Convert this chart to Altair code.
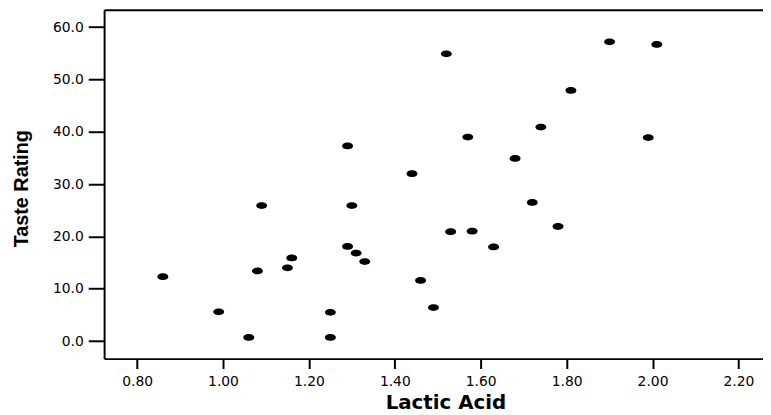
import altair as alt
import pandas as pd

lactic = [0.86, 1.53, 1.57, 1.81, 0.99, 1.09, 1.29, 1.78, 1.29, 1.58,
          1.68, 1.90, 1.06, 1.30, 1.52, 1.74, 1.16, 1.49, 1.63, 1.99,
          1.15, 1.33, 1.44, 2.01, 1.31, 1.46, 1.72, 1.25, 1.08, 1.25]
taste = [12.3, 20.9, 39.0, 47.9, 5.6, 25.9, 37.3, 21.9, 18.1, 21.0,
         34.9, 57.2, 0.7, 25.9, 54.9, 40.9, 15.9, 6.4, 18.0, 38.9,
         14.0, 15.2, 32.0, 56.7, 16.8, 11.6, 26.5, 0.7, 13.4, 5.5]
x_ticks = [0.8, 1.0, 1.2, 1.4, 1.6, 1.8, 2.0, 2.2]
y_ticks = [0, 10, 20, 30, 40, 50, 60]

df = pd.DataFrame({"Lactic Acid": lactic, "Taste Rating": taste})

x_scale = alt.Scale(domain=[0.7232, 2.2572], nice=False, zero=False)
y_scale = alt.Scale(domain=[-3.35, 63.3], nice=False, zero=False)

ellipse = "M-1,0A1,0.62 0 1,0 1,0A1,0.62 0 1,0 -1,0Z"

points = alt.Chart(df).mark_point(
    shape=ellipse, filled=True, color="black", opacity=1, size=121
).encode(
    x=alt.X("Lactic Acid:Q", scale=x_scale,
            axis=alt.Axis(values=x_ticks, format=".2f", grid=False,
                          tickSize=10, tickWidth=2, domainWidth=2,
                          domainColor="black", tickColor="black",
                          labelFont="DejaVu Sans", labelFontSize=14,
                          labelColor="black", labelPadding=6,
                          labelFlush=False,
                          title="Lactic Acid", titleFont="DejaVu Sans",
                          titleFontSize=20, titleFontWeight="bold",
                          titleColor="black", titleBaseline="alphabetic",
                          titleAlign="center", titleX=344.5, titleY=50)),
    y=alt.Y("Taste Rating:Q", scale=y_scale,
            axis=alt.Axis(values=y_ticks, format=".1f", grid=False,
                          tickSize=16, tickWidth=2, domainWidth=2,
                          domainColor="black", tickColor="black",
                          labelFont="DejaVu Sans", labelFontSize=14,
                          labelColor="black", labelPadding=5,
                          labelFlush=False,
                          title="Taste Rating", titleFont="Liberation Sans",
                          titleFontSize=20, titleFontWeight="bold",
                          titleColor="black", titleBaseline="alphabetic",
                          titleAlign="center", titleAngle=270,
                          titleX=-77, titleY=180)),
)

top_line = alt.Chart(df).mark_point(opacity=0).encode(
    x=alt.X("Lactic Acid:Q", scale=x_scale,
            axis=alt.Axis(orient="top", values=[], labels=False, ticks=False,
                          grid=False, domainWidth=2, domainColor="black",
                          title=None)),
)

chart = alt.layer(points, top_line).resolve_axis(x="independent").properties(
    width=665,
    height=352,
    padding={"left": 97, "top": 0, "right": 0, "bottom": 53},
    autosize=alt.AutoSizeParams(type="none"),
    background="white",
).configure_view(stroke=None)

chart.save("out.html", embed_options={"renderer": "svg", "actions": False})
